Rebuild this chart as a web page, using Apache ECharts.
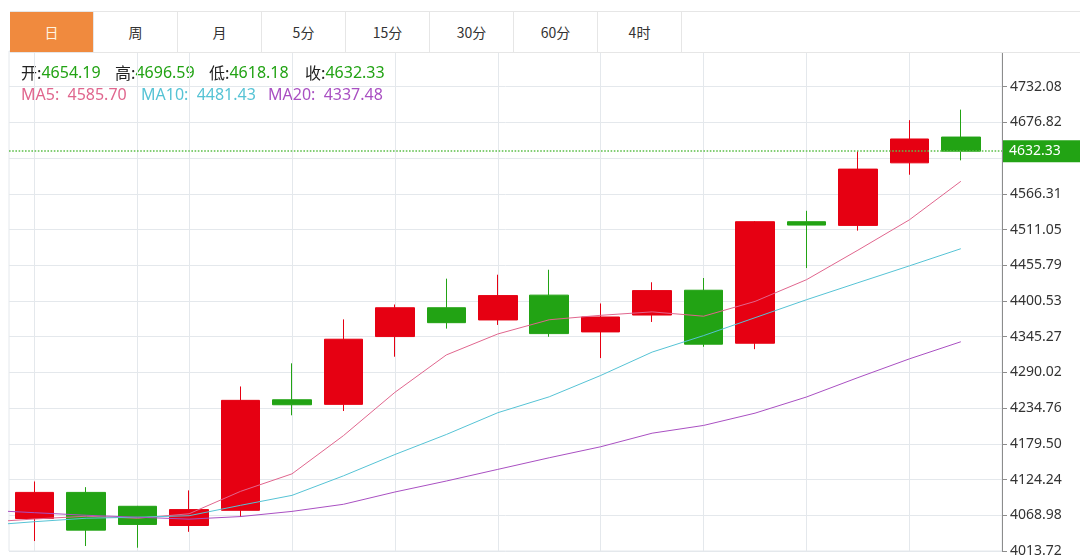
<!DOCTYPE html>
<html>
<head>
<meta charset="utf-8">
<title>日K</title>
<script src="https://cdn.jsdelivr.net/npm/echarts@6/dist/echarts.min.js"></script>
<style>
  html, body { margin: 0; padding: 0; background: #fff; }
  #wrap { position: relative; width: 1080px; height: 558px; overflow: hidden; }
  #chartsDiv { position: absolute; left: 0; top: 0; width: 1080px; height: 558px; }
  #tabs {
    position: absolute; left: 10px; right: 0; top: 11px; height: 40px;
    display: flex; background: #fff; z-index: 2;
    border-top: 1px solid #e6e6e6; border-bottom: 1px solid #e6e6e6;
    font-family: 'Noto Sans CJK SC', sans-serif; font-size: 14px; color: #333;
  }
  #tabs div { width: 83px; border-right: 1px solid #e6e6e6; line-height: 40px; text-align: center; }
  #tabs div.on { background: #f08a3e; color: #fff4e0; }
</style>
</head>
<body>
<div id="wrap">
  <div id="chartsDiv"></div>
  <div id="tabs"></div>
</div>
<script>
// 周期
var periods = ['日', '周', '月', '5分', '15分', '30分', '60分', '4时']

// 日K：开 收 低 高
var opens = [4063.97, 4104.40, 4082.90, 4053.20, 4076.70, 4247.70, 4240.60, 4345.50, 4390.10, 4371.20,
  4409.60, 4352.70, 4378.80, 4417.20, 4335.20, 4523.20, 4517.50, 4614.30, 4654.19]
var closes = [4104.40, 4046.00, 4054.80, 4077.80, 4246.80, 4240.00, 4341.40, 4390.10, 4367.00, 4408.90,
  4350.10, 4375.80, 4416.60, 4333.70, 4523.20, 4518.00, 4604.60, 4651.20, 4632.33]
var lows = [4029.10, 4021.40, 4018.80, 4043.40, 4066.40, 4223.70, 4230.30, 4314.30, 4357.80, 4363.50,
  4345.10, 4312.20, 4368.10, 4329.70, 4326.00, 4451.50, 4509.40, 4595.90, 4618.18]
var highs = [4121.30, 4112.50, 4083.50, 4107.50, 4268.30, 4304.10, 4372.10, 4395.10, 4435.10, 4441.20,
  4448.90, 4396.70, 4429.50, 4436.10, 4524.10, 4540.10, 4632.30, 4680.30, 4696.59]

// 均线，第一个值是图左边界外的前一天
var ma5 = [4058.0, 4063.3, 4067.5, 4064.4, 4071.3, 4106.0, 4133.1, 4192.2, 4259.2, 4317.1,
  4349.5, 4371.5, 4378.4, 4383.7, 4377.0, 4399.9, 4433.5, 4479.2, 4526.1, 4585.70]
var ma10 = [4053.0, 4059.1, 4064.4, 4066.0, 4068.3, 4084.4, 4099.8, 4130.0, 4163.0, 4194.0,
  4227.7, 4252.3, 4285.3, 4321.5, 4347.0, 4374.7, 4402.5, 4428.8, 4454.9, 4481.43]
var ma20 = [4077.0, 4073.0, 4069.0, 4066.0, 4063.0, 4067.0, 4075.0, 4086.0, 4105.0, 4122.0,
  4140.0, 4158.0, 4175.0, 4196.0, 4208.0, 4227.0, 4252.0, 4282.0, 4311.0, 4337.48]

// 竖向分隔线所在的K线序号
var splitDays = [0, 2, 3, 5, 7, 9, 11, 13, 15, 17]

// 纵轴刻度
var yMin = 4013.7236
var yStep = 55.2583
var yMax = 4787.3398

var upColor = '#e60012'
var downColor = '#22a314'
var priceLineColor = '#5cbf4a'
var lineColors = ['#e0668e', '#56c3d5', '#a950c2']
var gridColor = '#e4e8ec'

var tabsDiv = document.getElementById('tabs')
periods.forEach(function(p, i) {
  var d = document.createElement('div')
  d.textContent = p
  if (i === 0) d.className = 'on'
  tabsDiv.appendChild(d)
})

var last = closes.length - 1
var kData = opens.map(function(o, i) {
  return [i, o, closes[i], lows[i], highs[i]]
})
var toLine = function(list) {
  return list.map(function(v, i) {
    return [i - 1, v]
  })
}

var infoText = function(x, y, key, value, keyColor, valueColor, keyFont) {
  return {
    type: 'text',
    x: x,
    y: y,
    silent: true,
    style: {
      text: '{k|' + key + '}{v|' + value + '}',
      verticalAlign: 'middle',
      rich: {
        k: { fontSize: 16, fontFamily: keyFont, fill: keyColor },
        v: { fontSize: 16, fontFamily: 'Noto Sans', fill: valueColor }
      }
    }
  }
}

var realChart = echarts.init(document.getElementById('chartsDiv'), null, { renderer: 'canvas' })

var option = {
  animation: false,
  backgroundColor: '#fff',
  grid: {
    left: 9,
    top: 51,
    width: 993,
    height: 504,
    show: true,
    borderColor: gridColor,
    borderWidth: 1
  },
  xAxis: {
    type: 'value',
    min: -0.5,
    max: 18.8,
    axisLine: { show: false, onZero: false },
    axisTick: { show: false },
    axisLabel: { show: false },
    splitLine: { show: false }
  },
  yAxis: {
    type: 'value',
    position: 'right',
    min: yMin,
    max: yMax,
    interval: yStep,
    axisLine: { show: true, onZero: false, lineStyle: { color: '#8c8c8c' } },
    axisTick: { show: true, length: 5, lineStyle: { color: '#8c8c8c' } },
    axisLabel: {
      color: '#333',
      fontSize: 14,
      fontFamily: 'Noto Sans',
      margin: 8,
      showMaxLabel: false,
      formatter: function(v) {
        return v.toFixed(2)
      }
    },
    splitLine: { lineStyle: { color: gridColor } }
  },
  graphic: [
    infoText(21, 73, '开:', opens[last].toFixed(2), '#222', downColor, 'Noto Sans CJK SC'),
    infoText(115, 73, '高:', highs[last].toFixed(2), '#222', downColor, 'Noto Sans CJK SC'),
    infoText(209, 73, '低:', lows[last].toFixed(2), '#222', downColor, 'Noto Sans CJK SC'),
    infoText(305, 73, '收:', closes[last].toFixed(2), '#222', downColor, 'Noto Sans CJK SC'),
    infoText(21, 95, 'MA5:  ', ma5[ma5.length - 1].toFixed(2), lineColors[0], lineColors[0], 'Noto Sans'),
    infoText(141, 95, 'MA10:  ', ma10[ma10.length - 1].toFixed(2), lineColors[1], lineColors[1], 'Noto Sans'),
    infoText(268, 95, 'MA20:  ', ma20[ma20.length - 1].toFixed(2), lineColors[2], lineColors[2], 'Noto Sans')
  ],
  series: [
    {
      name: 'K',
      type: 'candlestick',
      data: kData,
      barWidth: 39,
      itemStyle: {
        color: upColor,
        color0: downColor,
        borderColor: upColor,
        borderColor0: downColor,
        borderWidth: 1
      }
    },
    {
      name: 'MA5',
      type: 'line',
      data: toLine(ma5),
      symbol: 'none',
      silent: true,
      lineStyle: { width: 1, color: lineColors[0] },
      itemStyle: { color: lineColors[0] },
      // 最新价虚线和右侧价格框
      markLine: {
        silent: true,
        symbol: 'none',
        label: {
          position: 'end',
          distance: 1,
          color: '#fff',
          backgroundColor: downColor,
          padding: [4, 22, 4, 6],
          fontSize: 14,
          fontFamily: 'Noto Sans',
          formatter: closes[last].toFixed(2)
        },
        data: [
          {
            yAxis: closes[last],
            lineStyle: { color: priceLineColor, type: 'dotted', width: 1.6, opacity: 1 }
          }
        ]
      }
    },
    {
      name: 'MA10',
      type: 'line',
      data: toLine(ma10),
      symbol: 'none',
      silent: true,
      lineStyle: { width: 1, color: lineColors[1] },
      itemStyle: { color: lineColors[1] }
    },
    {
      name: 'MA20',
      type: 'line',
      data: toLine(ma20),
      symbol: 'none',
      silent: true,
      lineStyle: { width: 1, color: lineColors[2] },
      itemStyle: { color: lineColors[2] },
      // 竖向网格线放在K线下面
      markLine: {
        silent: true,
        z: 1,
        symbol: 'none',
        label: { show: false },
        lineStyle: { color: gridColor, type: 'solid', width: 1 },
        data: splitDays.map(function(d) {
          return { xAxis: d }
        })
      }
    }
  ]
}

realChart.setOption(option)
</script>
</body>
</html>
